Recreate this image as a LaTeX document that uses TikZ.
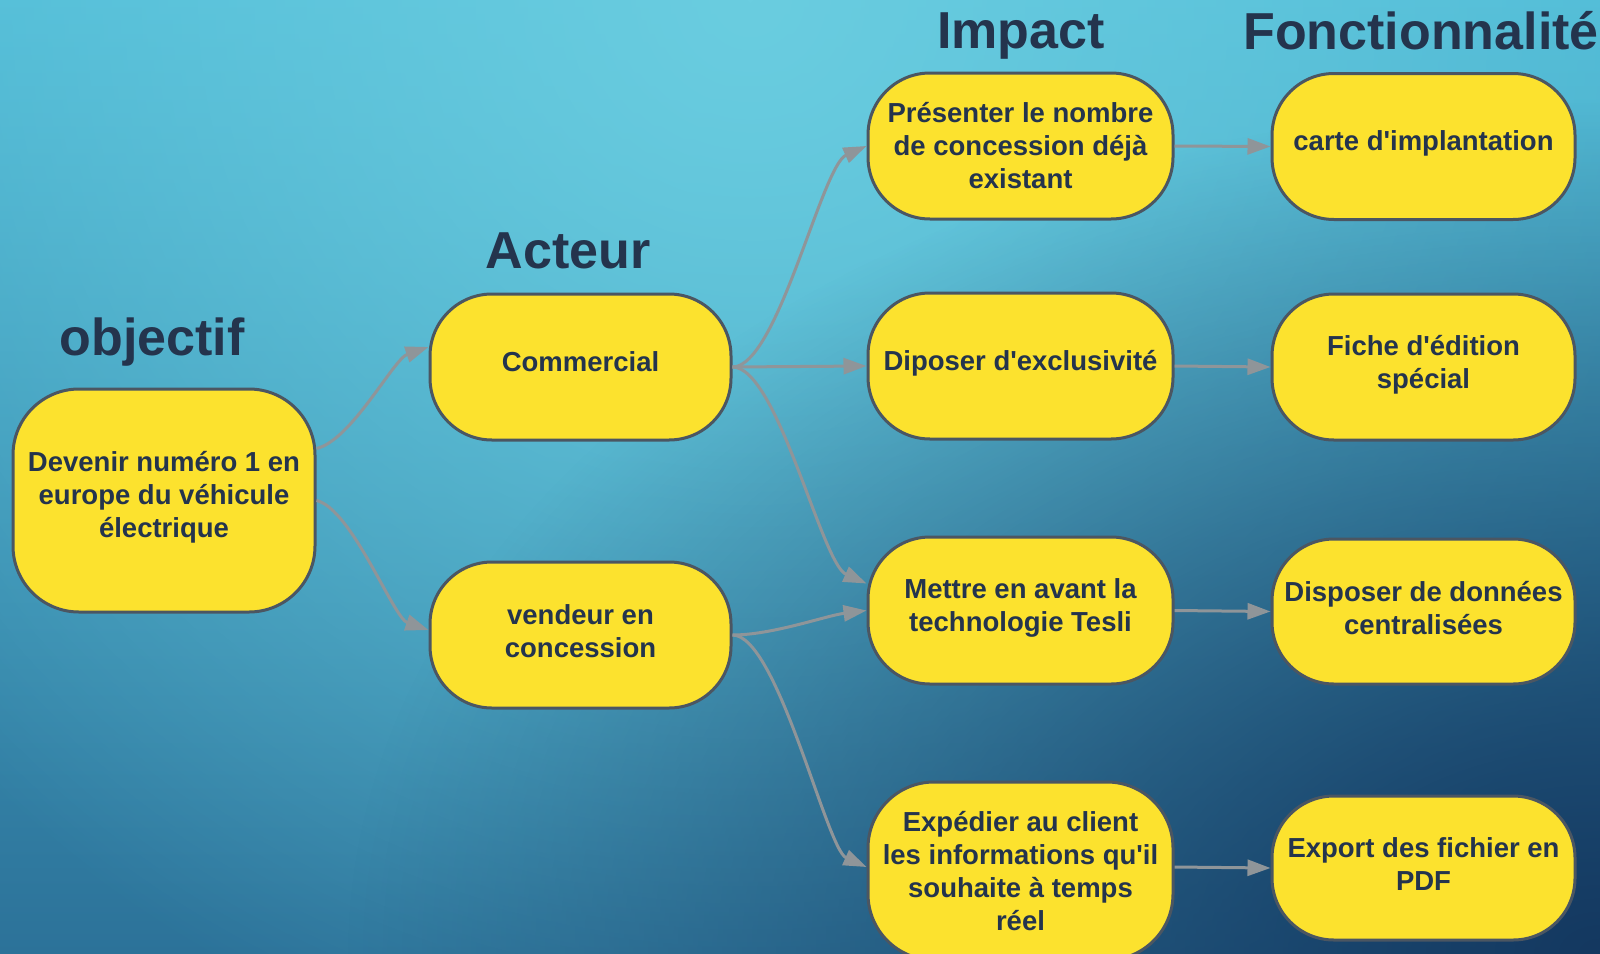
\documentclass[tikz,border=0pt]{standalone}
\usepackage{fontspec}
\setmainfont{Liberation Sans}[Ligatures=TeXOff]
\usetikzlibrary{arrows.meta,fadings}
\definecolor{navy}{HTML}{24344D}
\definecolor{boxyellow}{HTML}{FCE22E}
\definecolor{boxborder}{HTML}{4B5662}
\definecolor{arrowgray}{HTML}{8F9599}
\definecolor{bgtop}{HTML}{4EBAD6}
\definecolor{bgmid}{HTML}{3FA5C5}
\definecolor{bgbot}{HTML}{2C7299}
\definecolor{bglight}{HTML}{6ACDE0}
\definecolor{bgdark}{HTML}{143860}
\tikzfading[name=radfade, inner color=transparent!0, outer color=transparent!100]
\begin{document}
\begin{tikzpicture}[x=1pt,y=-1pt,
  yellowbox/.style={draw=boxborder, line width=3pt, fill=boxyellow, rounded corners=62pt,
    minimum width=303pt, minimum height=146pt, inner sep=2pt, align=center, text=navy,
    font=\fontsize{27.5}{33}\selectfont\bfseries},
  oneline/.style={text height=20pt, text depth=12pt},
  titletext/.style={anchor=base, text=navy, font=\fontsize{52}{60}\selectfont\bfseries},
  connector/.style={draw=arrowgray, line width=3pt, -{Triangle[length=23pt,width=16pt]}}]
\useasboundingbox (0,0) rectangle (1600,953);
\begin{scope}
\clip (0,0) rectangle (1600,953);
\shade[top color=bgtop, middle color=bgmid, bottom color=bgbot] (0,0) rectangle (1600,953);
\fill[bglight, path fading=radfade] (750,0) circle[radius=1100pt];
\fill[bgdark, path fading=radfade] (1600,953) ellipse[x radius=1250pt, y radius=850pt];
\end{scope}

% titles
\node[titletext] (tobj) at (152,355) {objectif};
\node[titletext] (tact) at (568,268) {Acteur};
\node[titletext] (timp) at (1021,48) {Impact};
\node[titletext] (tfon) at (1421,49) {Fonctionnalité};

% boxes
\node[yellowbox, minimum width=302pt, minimum height=223pt, rounded corners=66pt, text depth=12pt] (obj) at (164,500.5)
  {Devenir numéro 1 en\\europe du véhicule\\électrique};
\node[yellowbox, oneline, minimum width=301pt] (com) at (580.5,367) {Commercial};
\node[yellowbox, minimum width=301pt, text depth=8pt] (ven) at (580.5,635) {vendeur en\\concession};

\node[yellowbox, minimum width=305pt] (imp1) at (1020.5,146) {Présenter le nombre\\de concession déjà\\existant};
\node[yellowbox, oneline, minimum width=305pt] (imp2) at (1020.5,366) {Diposer d'exclusivité};
\node[yellowbox, minimum width=305pt, minimum height=147pt, text depth=10pt] (imp3) at (1020.5,610.5) {Mettre en avant la\\technologie Tesli};
\node[yellowbox, minimum width=305pt, minimum height=178pt, rounded corners=66pt] (imp4) at (1020.5,871)
  {Expédier au client\\les informations qu'il\\souhaite à temps\\réel};

\node[yellowbox, oneline] (f1) at (1423.5,146.5) {carte d'implantation};
\node[yellowbox, text depth=10pt] (f2) at (1423.5,367) {Fiche d'édition\\spécial};
\node[yellowbox, minimum height=145pt, text depth=8pt] (f3) at (1423.5,611.5) {Disposer de données\\centralisées};
\node[yellowbox, minimum height=144pt, text depth=8pt] (f4) at (1423.5,868) {Export des fichier en\\PDF};

% connectors
\draw[connector] ([yshift=52pt]obj.east) .. controls +(35,-8) and +(-35,12) .. ([yshift=20pt]com.west);
\draw[connector] (obj.east) .. controls +(35,8) and +(-35,-12) .. ([yshift=5pt]ven.west);

\draw[connector] (com.east) .. controls +(45,0) and +(-45,20) .. (imp1.west);
\draw[connector] (com.east) -- (imp2.west);
\draw[connector] (com.east) .. controls +(45,0) and +(-45,-20) .. ([yshift=27pt]imp3.west);
\draw[connector] (ven.east) .. controls +(40,0) and +(-40,5) .. (imp3.west);
\draw[connector] (ven.east) .. controls +(45,0) and +(-40,-18) .. ([yshift=4pt]imp4.west);

\draw[connector] (imp1.east) -- (f1.west);
\draw[connector] (imp2.east) -- (f2.west);
\draw[connector] (imp3.east) -- (f3.west);
\draw[connector] ([yshift=4pt]imp4.east) -- (f4.west);
\end{tikzpicture}
\end{document}
